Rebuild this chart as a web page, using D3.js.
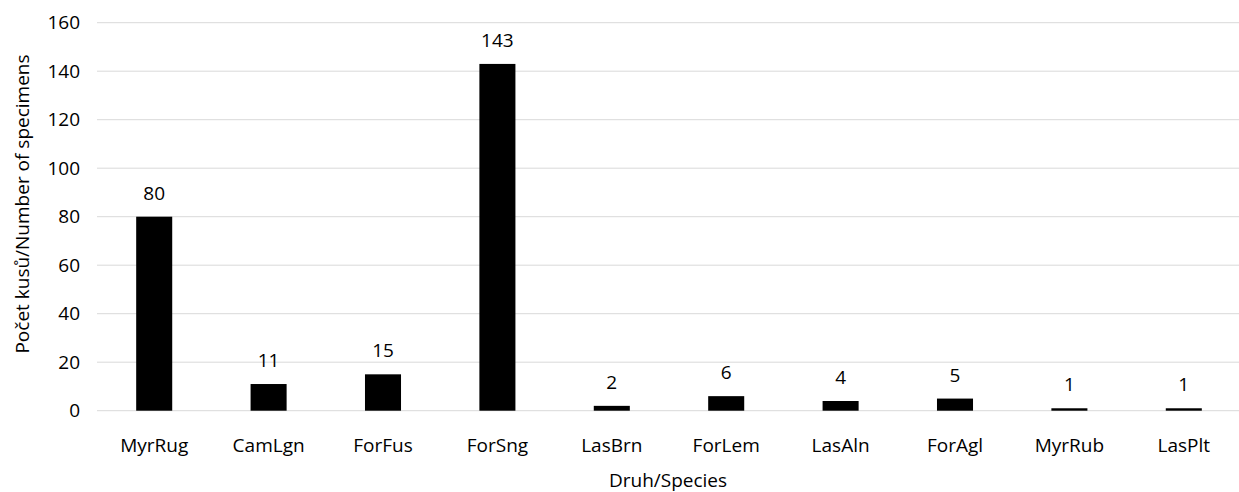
<!DOCTYPE html>
<html>
<head>
<meta charset="utf-8">
<script src="https://cdn.jsdelivr.net/npm/d3@7"></script>
<style>
  html, body { margin: 0; padding: 0; background: #fff; overflow: hidden; }
  svg { display: block; }
  svg text { font-family: "Open Sans", sans-serif; fill: #000; }
</style>
</head>
<body>
<svg width="1239" height="492"></svg>
<script>
const species = ['MyrRug', 'CamLgn', 'ForFus', 'ForSng', 'LasBrn', 'ForLem', 'LasAln', 'ForAgl', 'MyrRub', 'LasPlt'];
const counts = [80, 11, 15, 143, 2, 6, 4, 5, 1, 1];
const yTicks = [0, 20, 40, 60, 80, 100, 120, 140, 160];

const data = species.map((s, i) => ({ druh: s, pocet: counts[i] }));

const svg = d3.select('svg');
const margin = { top: 22.7, right: 0, bottom: 81.3, left: 97 };
const width = +svg.attr('width');
const height = +svg.attr('height');
const innerWidth = width - margin.left - margin.right;
const innerHeight = height - margin.top - margin.bottom;

// bands a bit wider than the visible plot, the last one runs off the edge
const xScale = d3.scaleBand()
    .domain(species)
    .range([0, innerWidth + 2])
    .paddingInner(0.685)
    .paddingOuter(0.3425);

const yScale = d3.scaleLinear()
    .domain([0, 160])
    .range([innerHeight, 0]);

const g = svg.append('g')
    .attr('transform', `translate(${margin.left},${margin.top})`);

// gridlines
g.append('g')
    .selectAll('line').data(yTicks)
    .enter().append('line')
    .attr('x1', 0)
    .attr('x2', innerWidth)
    .attr('y1', d => yScale(d))
    .attr('y2', d => yScale(d))
    .attr('stroke', '#d9d9d9')
    .attr('stroke-width', 1);

const yAxis = g.append('g')
    .call(d3.axisLeft(yScale).tickValues(yTicks).tickSize(0).tickPadding(17));
yAxis.select('.domain').remove();
yAxis.selectAll('text').attr('font-size', 19);

const xAxis = g.append('g')
    .attr('transform', `translate(0,${innerHeight})`)
    .call(d3.axisBottom(xScale).tickSize(0).tickPadding(28));
xAxis.select('.domain').remove();
xAxis.selectAll('text').attr('font-size', 19);

g.selectAll('rect.bar').data(data)
    .enter().append('rect')
    .attr('class', 'bar')
    .attr('x', d => xScale(d.druh))
    .attr('y', d => yScale(d.pocet))
    .attr('width', xScale.bandwidth())
    .attr('height', d => innerHeight - yScale(d.pocet))
    .attr('fill', '#000');

g.selectAll('text.val').data(data)
    .enter().append('text')
    .attr('class', 'val')
    .attr('x', d => xScale(d.druh) + xScale.bandwidth() / 2)
    .attr('y', d => yScale(d.pocet) - 17)
    .attr('text-anchor', 'middle')
    .attr('font-size', 19)
    .text(d => d.pocet);

svg.append('text')
    .attr('x', 668)
    .attr('y', 487)
    .attr('text-anchor', 'middle')
    .attr('font-size', 19)
    .text('Druh/Species');

svg.append('text')
    .attr('transform', 'translate(29,204) rotate(-90)')
    .attr('text-anchor', 'middle')
    .attr('font-size', 19)
    .text('Počet kusů/Number of specimens');
</script>
</body>
</html>
